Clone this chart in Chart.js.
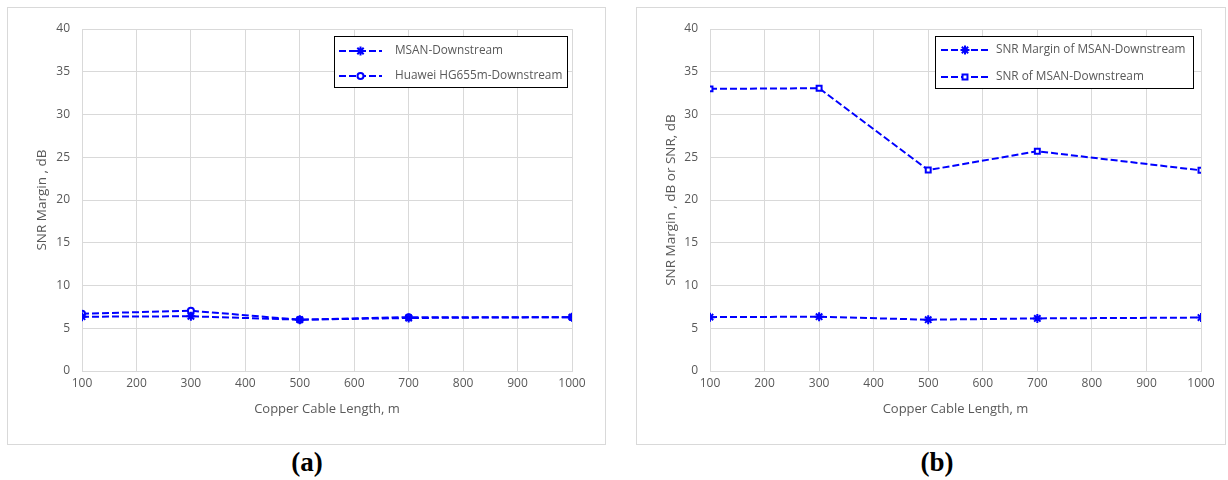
<!DOCTYPE html>
<html>
<head>
<meta charset="utf-8">
<script src="https://cdn.jsdelivr.net/npm/chart.js@4/dist/chart.umd.min.js"></script>
<style>
  html, body { margin:0; padding:0; background:#fff; width:1228px; height:480px; overflow:hidden; }
  .panel { position:absolute; border:1px solid #d9d9d9; box-sizing:border-box; background:#fff; }
  .cap { position:absolute; font-family:"Liberation Serif", "DejaVu Serif", serif; font-weight:bold; font-size:27px; color:#000; transform:translateX(-50%); }
</style>
</head>
<body>
<div class="panel" style="left:7px;top:7px;width:599px;height:438px;"><canvas id="ca"></canvas></div>
<div class="panel" style="left:636px;top:7px;width:590px;height:438px;"><canvas id="cb"></canvas></div>
<div class="cap" style="left:307px;top:447px;">(a)</div>
<div class="cap" style="left:937px;top:447px;">(b)</div>
<script>
// ---- data ----
const lengths = [100, 300, 500, 700, 1000];
const msanMarginA = [6.35, 6.4, 6.0, 6.2, 6.3];
const huaweiMarginA = [6.7, 7.05, 6.0, 6.3, 6.3];
const msanMarginB = [6.3, 6.35, 6.0, 6.15, 6.25];
const msanSnrB = [33.0, 33.07, 23.5, 25.7, 23.47];
const yTicks = [0, 5, 10, 15, 20, 25, 30, 35, 40];
const xTicks = [100, 200, 300, 400, 500, 600, 700, 800, 900, 1000];

const FONT = '"Open Sans", "Noto Sans", sans-serif';
const GRAY = '#595959';
const GRID = '#d9d9d9';
const BLUE = '#0000ff';

function pts(ys) { return lengths.map((x, i) => ({x: x, y: ys[i]})); }

const legendBox = {
  id: 'legendBox',
  afterDraw(chart, args, opts) {
    const ctx = chart.ctx;
    const b = opts.box;
    ctx.save();
    ctx.fillStyle = '#fff';
    ctx.fillRect(b.x, b.y, b.w, b.h);
    ctx.strokeStyle = '#000';
    ctx.lineWidth = 1;
    ctx.strokeRect(b.x + 0.5, b.y + 0.5, b.w, b.h);
    chart.data.datasets.forEach((ds, i) => {
      const y = b.y + opts.rows[i];
      ctx.strokeStyle = BLUE;
      ctx.lineWidth = 2;
      ctx.setLineDash(ds.borderDash);
      ctx.beginPath();
      ctx.moveTo(b.x + opts.lx0, y);
      ctx.lineTo(b.x + opts.lx1, y);
      ctx.stroke();
      ctx.setLineDash([]);
      ctx.fillStyle = ds.pointBackgroundColor;
      ctx.strokeStyle = BLUE;
      ctx.lineWidth = ds.pointBorderWidth;
      Chart.helpers.drawPoint(ctx, {
        pointStyle: ds.pointStyle, radius: ds.pointRadius, borderWidth: ds.pointBorderWidth, rotation: 0
      }, b.x + (opts.lx0 + opts.lx1) / 2, y);
      ctx.fillStyle = GRAY;
      ctx.font = '11.8px ' + FONT;
      ctx.textBaseline = 'middle';
      ctx.textAlign = 'left';
      ctx.fillText(ds.label, b.x + opts.tx, y);
    });
    ctx.restore();
  }
};

function ds(label, ys, style, r, fill) {
  return {
    label: label, data: pts(ys),
    borderColor: BLUE, backgroundColor: fill, borderWidth: 2, borderDash: [7, 3],
    pointStyle: style, pointRadius: r, pointHoverRadius: r,
    pointBorderColor: BLUE, pointBackgroundColor: fill, pointBorderWidth: 2,
    tension: 0, fill: false
  };
}

function makeOptions(yTitle, padRight, yWidth, legendOpts) {
  return {
    responsive: false, animation: false, devicePixelRatio: 1,
    layout: { padding: { top: 21, right: padRight, bottom: 27, left: 0 } },
    plugins: { legend: { display: false }, tooltip: { enabled: false }, legendBox: legendOpts },
    scales: {
      x: {
        type: 'linear', min: 100, max: 1000,
        afterBuildTicks: (s) => { s.ticks = xTicks.map(v => ({value: v})); },
        grid: { color: GRID, drawTicks: false, lineWidth: 1 },
        border: { color: GRID },
        ticks: { color: GRAY, font: { family: FONT, size: 12 }, padding: 5, maxRotation: 0, callback: (v) => String(v) },
        title: { display: true, text: 'Copper Cable Length, m', color: GRAY, font: { family: FONT, size: 13 }, padding: { top: 6, bottom: 0 } },
        afterFit: (s) => { s.height = 46; }
      },
      y: {
        type: 'linear', min: 0, max: 40,
        afterBuildTicks: (s) => { s.ticks = yTicks.map(v => ({value: v})); },
        grid: { color: GRID, drawTicks: false, lineWidth: 1 },
        border: { color: GRID },
        ticks: { color: GRAY, font: { family: FONT, size: 12 }, padding: 12 },
        title: { display: true, text: yTitle, color: GRAY, font: { family: FONT, size: 13.5 }, padding: { top: 26, bottom: 4 } },
        afterFit: (s) => { s.width = yWidth; }
      }
    }
  };
}

function setup(id, w, h) {
  const c = document.getElementById(id);
  c.width = w; c.height = h;
  c.style.width = w + 'px'; c.style.height = h + 'px';
  return c;
}

new Chart(setup('ca', 597, 436), {
  type: 'line',
  data: { datasets: [
    ds('MSAN-Downstream', msanMarginA, 'star', 4.5, BLUE),
    ds('Huawei HG655m-Downstream', huaweiMarginA, 'circle', 3, '#fff')
  ] },
  options: makeOptions('SNR Margin , dB', 33, 74, { box: {x: 326, y: 28, w: 233, h: 51}, rows: [15, 40], lx0: 5, lx1: 48, tx: 61 }),
  plugins: [legendBox]
});

new Chart(setup('cb', 588, 436), {
  type: 'line',
  data: { datasets: [
    ds('SNR Margin of MSAN-Downstream', msanMarginB, 'star', 4.5, BLUE),
    ds('SNR of MSAN-Downstream', msanSnrB, 'rect', 3.5, '#fff')
  ] },
  options: makeOptions('SNR Margin , dB or SNR, dB', 24, 73, { box: {x: 298, y: 28, w: 258, h: 52}, rows: [14, 41], lx0: 6, lx1: 54, tx: 61 }),
  plugins: [legendBox]
});
</script>
</body>
</html>
